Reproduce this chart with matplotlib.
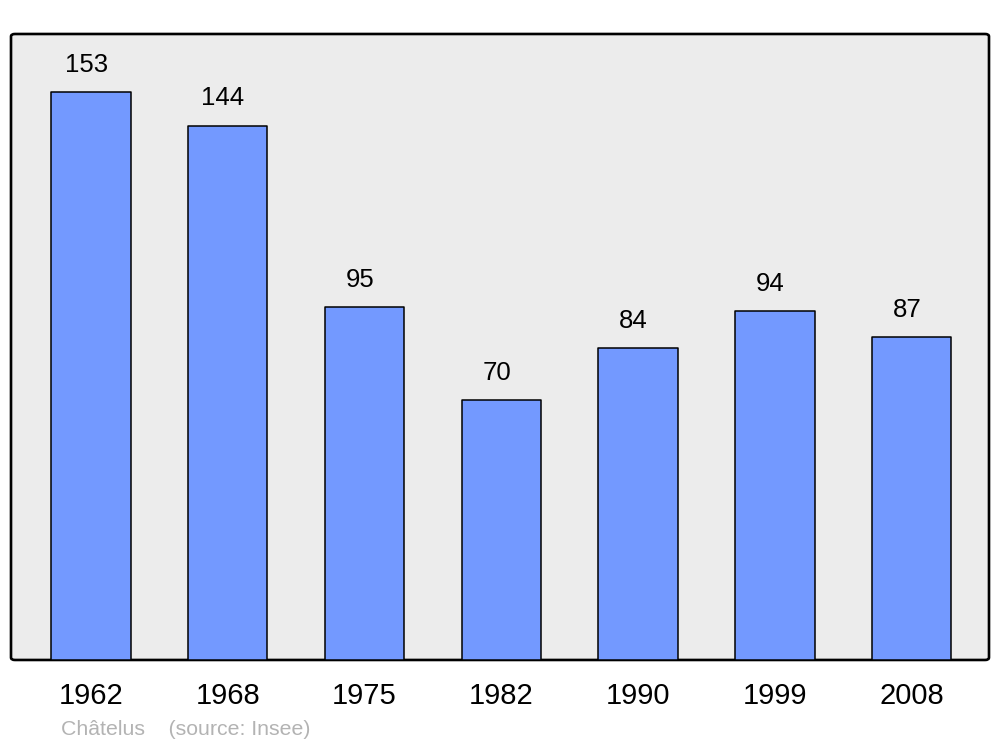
import matplotlib.pyplot as plt
from matplotlib.patches import FancyBboxPatch

# population data
years = ["1962", "1968", "1975", "1982", "1990", "1999", "2008"]
population = [153, 144, 95, 70, 84, 94, 87]

plt.rcParams['font.family'] = ['Liberation Sans', 'DejaVu Sans']

fig = plt.figure(figsize=(10, 7.47), dpi=100)
ax = fig.add_axes([0.011, 0.1165, 0.978, 0.838])
ax.set_facecolor('none')

# rounded grey background box
bg = FancyBboxPatch((0, 0), 1, 1, boxstyle="round,pad=0,rounding_size=0.004",
                    transform=ax.transAxes, facecolor='#ececec', edgecolor='black',
                    linewidth=1.9, zorder=0, clip_on=False)
ax.add_patch(bg)

x = range(len(years))
bars = ax.bar(x, population, width=0.58, color='#7399ff', edgecolor='black',
              linewidth=1.1, zorder=2)
for b in bars:
    b.set_joinstyle('round')

for xi, v in zip(x, population):
    ax.annotate(str(v), (xi, v), xytext=(-3.5, 11), textcoords='offset points',
                ha='center', va='bottom', fontsize=18.5)

ax.set_xlim(-0.585, 6.565)
ax.set_ylim(0, 168.7)
ax.set_xticks(list(x))
ax.set_xticklabels(years, fontsize=21)
ax.tick_params(axis='x', length=0, pad=16)
ax.set_yticks([])
for s in ax.spines.values():
    s.set_visible(False)

fig.text(0.061, 0.0228, "Châtelus    (source: Insee)", color='#b3b3b3',
         fontsize=15.3, ha='left', va='center')

fig.savefig('out.png', dpi=100)
